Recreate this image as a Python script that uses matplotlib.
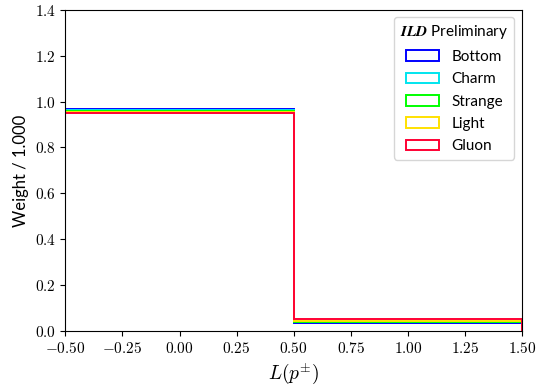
import numpy as np
import matplotlib
matplotlib.use("Agg")
import matplotlib.pyplot as plt

plt.rcParams['mathtext.fontset'] = 'cm'
plt.rcParams['font.family'] = ['Lato', 'DejaVu Sans']

bin_edges = [-0.5, 0.5, 1.5]
bin_centers = [0.0, 1.0]
labels = ["Bottom", "Charm", "Strange", "Light", "Gluon"]
colors = ["#0000ff", "#00e5ee", "#00ff00", "#ffe100", "#ff0033"]
bottom_w = [0.966, 0.034]
charm_w = [0.962, 0.038]
strange_w = [0.958, 0.042]
light_w = [0.954, 0.046]
gluon_w = [0.949, 0.051]
weights = [bottom_w, charm_w, strange_w, light_w, gluon_w]

fig, ax = plt.subplots(figsize=(5.45, 3.86), dpi=100)

for w, c, lab in zip(weights, colors, labels):
    ax.hist(bin_centers, bins=bin_edges, weights=w, histtype='step',
            color=c, linewidth=1.4, label=lab)

ax.set_xlim(-0.5, 1.5)
ax.set_ylim(0, 1.4)
xt = np.arange(-0.5, 1.51, 0.25)
yt = np.arange(0, 1.41, 0.2)
ax.set_xticks(xt)
ax.set_yticks(yt)
ax.set_xticklabels([r"$%.2f$" % t for t in xt])
ax.set_yticklabels([r"$%.1f$" % t for t in yt])
ax.tick_params(labelsize=11)
ax.set_xlabel(r"$L(p^{\pm})$", fontsize=14)
ax.set_ylabel("Weight / 1.000", fontsize=12)

leg = ax.legend(title=r"$\mathbfit{ILD}$ Preliminary", loc='upper right',
                fontsize=11, title_fontsize=11, handlelength=2.2,
                labelspacing=0.55)
leg.get_title().set_fontsize(11)

fig.subplots_adjust(left=0.12, right=0.958, top=0.975, bottom=0.142)
fig.savefig("out.png", dpi=100)
